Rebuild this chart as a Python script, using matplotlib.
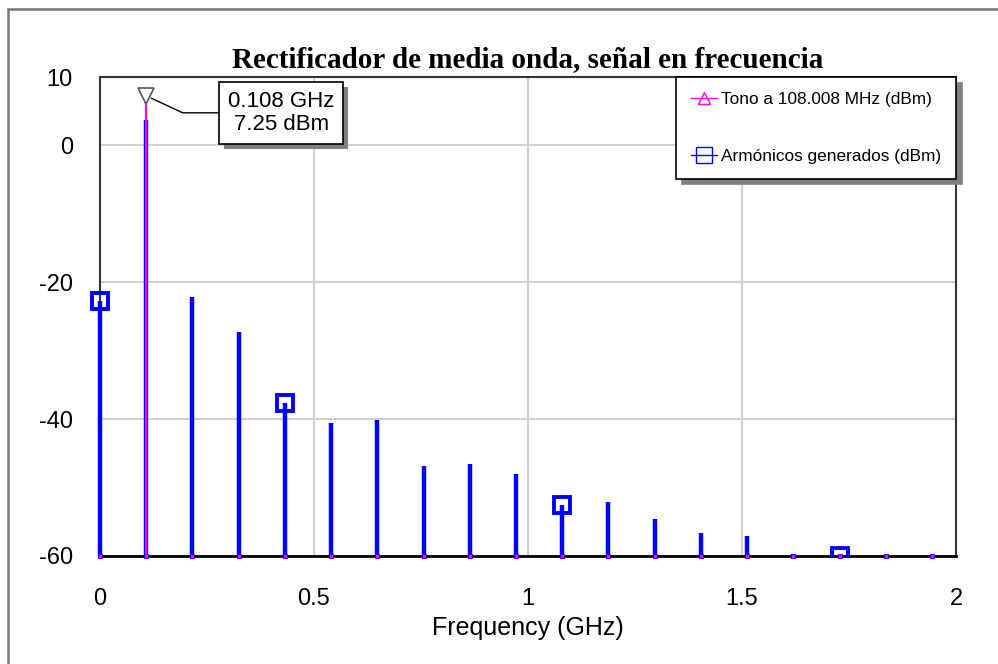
import matplotlib
matplotlib.use("Agg")
import matplotlib.pyplot as plt
from matplotlib.patches import Rectangle
from matplotlib.transforms import IdentityTransform

# harmonic frequencies (GHz) of the 108.008 MHz tone
freq = [0.0, 0.108, 0.216, 0.324, 0.432, 0.540, 0.648, 0.756, 0.864, 0.972,
        1.080, 1.188, 1.296, 1.404, 1.512, 1.620, 1.728, 1.836, 1.944]
# output spectrum of the rectifier (dBm)
harm_dbm = [-22.8, 3.7, -22.2, -27.2, -37.6, -40.6, -40.1, -46.9, -46.6, -48.0,
            -52.6, -52.1, -54.6, -56.6, -57.1, -59.7, -60.0, -60.0, -60.0]
# input tone, only present at the fundamental
tone_freq = 0.108
tone_dbm = 7.25
marker_idx = [0, 4, 10, 16]

x_ticks = [0, 0.5, 1, 1.5, 2]
y_ticks = [-60, -40, -20, 0, 10]

plt.rcParams['font.family'] = ['Liberation Sans', 'DejaVu Sans']

fig = plt.figure(figsize=(9.98, 6.64), dpi=100)
ax = fig.add_axes([100/998, 108/664, 856/998, 479/664])

blue = '#0000ff'
mag = '#ff00ff'

# harmonic stems
ax.vlines(freq, -60, harm_dbm, colors=blue, lw=3.2, zorder=3, clip_on=False)
mk = ax.plot([freq[i] for i in marker_idx], [harm_dbm[i] for i in marker_idx],
             ls='none', marker='s', ms=12, mfc='none', mec=blue, mew=2.8, zorder=4)[0]
clip = Rectangle((-0.05, 0), 1.1, 1.1, transform=ax.transAxes)
mk.set_clip_path(clip)

# tone line plus its baseline points
ax.vlines([tone_freq], -60, [tone_dbm], colors=mag, lw=1.6, zorder=5)
ax.plot(freq, [-60] * len(freq), ls='none', marker='s', ms=3.5, mfc=mag,
        mec=blue, mew=0.6, zorder=6, clip_on=False)
ax.plot([tone_freq], [tone_dbm], ls='none', marker='v', ms=12, mfc='white',
        mec='#555555', mew=1.2, zorder=7)

# legend proxies
h1, = ax.plot([], [], color=mag, lw=1, marker='^', ms=9, mfc='none', mec=mag, mew=1)
h2, = ax.plot([], [], color=blue, lw=1, marker='s', ms=11, mfc='none', mec=blue, mew=1)
leg = ax.legend([h1, h2], ['Tono a 108.008 MHz (dBm)', 'Armónicos generados (dBm)'],
                loc='upper right', bbox_to_anchor=(1.0, 1.0), borderaxespad=0,
                fontsize=12.4, frameon=True, fancybox=False, labelspacing=2.45,
                handlelength=1.5, handletextpad=0.25, borderpad=0.85,
                shadow={'ox': 4, 'oy': -4, 'color': '#808080', 'alpha': 1})
leg.get_frame().set_edgecolor('black')
leg.get_frame().set_linewidth(1.2)

# marker readout
ann = ax.annotate('0.108 GHz\n7.25 dBm', xy=(tone_freq, tone_dbm), xytext=(135, -17),
                  textcoords='offset pixels', ha='center', va='center', fontsize=16,
                  linespacing=1.1, multialignment='center',
                  bbox=dict(boxstyle='square,pad=0.4', fc='white', ec='black', lw=1.2),
                  arrowprops=dict(arrowstyle='-', color='black', lw=1,
                                  connectionstyle='angle,angleA=0,angleB=-25,rad=0',
                                  shrinkA=0, shrinkB=4),
                  zorder=9)

ax.set_xlim(0, 2)
ax.set_ylim(-60, 10)
ax.set_xticks(x_ticks)
ax.set_xticklabels(['0', '0.5', '1', '1.5', '2'])
ax.set_yticks(y_ticks)
ax.set_yticklabels(['-60', '-40', '-20', '0', '10'])
ax.tick_params(length=0, labelsize=17)
ax.tick_params(axis='y', pad=19.5)
ax.tick_params(axis='x', pad=23)
ax.grid(True, color='#d0d0d0', lw=1.5)
ax.set_axisbelow(True)
for s in ax.spines.values():
    s.set_color('#333333')
    s.set_linewidth(1.5)
ax.spines['bottom'].set_color('black')
ax.spines['bottom'].set_linewidth(2)

ax.set_xlabel('Frequency (GHz)', fontsize=18, labelpad=4)
ax.set_title('Rectificador de media onda, señal en frecuencia', fontsize=21,
             fontweight='bold', family='Liberation Serif', pad=7)

# drop shadow behind the readout box
fig.canvas.draw()
bb = ann.get_bbox_patch().get_window_extent()
ax.add_patch(Rectangle((bb.x0 + 5, bb.y0 - 5), bb.width, bb.height,
                       transform=IdentityTransform(), fc='#808080', ec='none',
                       zorder=8, clip_on=False))

# outer frame of the graph window
fig.add_artist(Rectangle((8/998, -0.1), 1.2, 655/664 + 0.1, transform=fig.transFigure,
                         fill=False, ec='#777777', lw=1.8))

fig.savefig('out.png', dpi=100)
